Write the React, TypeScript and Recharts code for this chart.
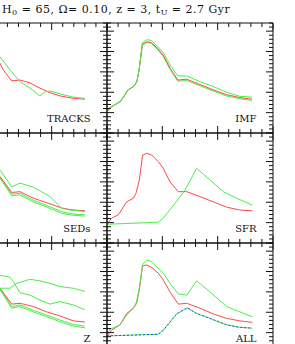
import { Line, LineChart, XAxis, YAxis } from 'recharts';

const RED = '#ff4848';
const GREEN = '#48ee48';
const BLUE = '#2f4cff';
const INK = '#111';

// minor ticks every unit, majors every 5
const xTicks = [0, 1, 2, 3, 4, 5, 6, 7, 8, 9, 10, 11, 12, 13, 14, 15];
const yTicks = [
  0, 1, 2, 3, 4, 5, 6, 7, 8, 9, 10, 11, 12, 13, 14, 15, 16, 17, 18, 19, 20, 21, 22, 23, 24, 25, 26, 27,
];

// TRACKS
const tracksRedX = [4.6, 5.33, 5.63, 6.39, 7.14, 8.04, 8.94, 9.85, 10.75, 11.95, 13.0];
const tracksRedY = [19.5, 17.1, 15.5, 12.8, 13.0, 12.3, 11.0, 9.9, 9.1, 8.5, 8.3];
const tracksGreenX = [4.6, 5.33, 6.23, 7.14, 8.04, 8.94, 9.39, 9.85, 10.75, 11.95, 13.0];
const tracksGreenY = [21.0, 18.7, 15.5, 12.6, 11.0, 9.1, 10.1, 10.3, 9.6, 8.8, 8.5];

// IMF
const imfX = [0, 0.3, 0.7, 1.2, 1.6, 1.9, 2.4, 2.7, 2.9, 3.2, 3.6, 4.0, 4.6, 5.1, 5.7, 6.4, 7.2, 8.4, 9.6, 10.8, 12.0, 13.1];
const imfGreenHi = [5.2, 6.3, 6.9, 7.7, 9.3, 10.6, 11.4, 12.6, 15.5, 22.2, 22.9, 22.7, 21.2, 19.7, 16.7, 14.0, 14.0, 12.6, 11.4, 10.0, 9.0, 8.8];
const imfRed = [5.2, 6.3, 6.9, 7.7, 9.3, 10.6, 11.4, 12.6, 15.5, 21.8, 22.4, 22.2, 20.7, 19.0, 15.9, 13.0, 13.2, 11.9, 10.6, 9.4, 8.7, 8.3];
const imfGreenLo = [5.2, 6.3, 6.9, 7.7, 9.3, 10.6, 11.4, 12.6, 15.5, 21.6, 22.2, 22.0, 20.4, 18.7, 15.6, 12.7, 12.9, 11.6, 10.3, 9.1, 8.4, 8.0];

// SEDs
const sedX = [4.6, 5.33, 6.39, 7.14, 8.34, 9.85, 10.9, 11.65, 13.0];
const sedGreenHi = [20.0, 17.9, 13.8, 14.7, 13.7, 11.4, 8.5, 8.1, 7.7];
const sedRed = [18.5, 16.3, 12.4, 12.6, 11.0, 9.6, 8.6, 8.2, 7.9];
const sedGreenMid = [18.3, 16.2, 12.0, 12.2, 10.5, 8.9, 7.7, 7.2, 6.9];
const sedGreenLo = [18.0, 15.9, 11.6, 11.8, 10.1, 8.5, 7.3, 6.9, 6.6];

// SFR
const sfrRedX = [0, 0.42, 1.02, 1.78, 2.38, 2.62, 2.92, 3.22, 3.59, 4.04, 4.63, 5.09, 5.69, 6.44, 7.2, 8.4, 9.6, 10.81, 12.0, 13.13];
const sfrRedY = [4.6, 6.1, 6.9, 10.1, 11.0, 12.2, 15.5, 21.6, 22.0, 21.6, 20.0, 18.3, 15.0, 12.6, 12.6, 11.4, 10.1, 8.8, 8.1, 7.9];
const sfrGreenX = [0, 4.63, 5.09, 6.14, 7.05, 8.1, 9.3, 10.5, 11.7, 13.13];
const sfrGreenY = [4.6, 5.1, 6.1, 9.7, 13.0, 18.3, 15.5, 12.6, 11.0, 9.3];

// Z
const zGreenAX = [4.6, 5.33, 6.23, 6.53, 7.14, 8.04, 8.94, 9.85, 10.75, 11.95, 13.0];
const zGreenAY = [19.3, 19.1, 18.6, 17.5, 14.8, 14.2, 13.0, 12.0, 12.6, 11.8, 10.6];
const zGreenBX = [4.6, 5.33, 6.23, 6.84, 8.04, 8.94, 9.85, 10.75, 11.95, 13.0];
const zGreenBY = [15.9, 15.9, 15.9, 17.1, 18.1, 17.7, 17.1, 16.3, 15.9, 15.1];
const zX = [4.6, 5.33, 6.39, 7.14, 8.34, 9.55, 10.75, 11.95, 13.0];
const zRed = [18.5, 15.9, 12.0, 12.2, 11.4, 10.1, 9.1, 7.9, 7.6];
const zGreenMid = [18.2, 15.8, 11.4, 11.8, 10.5, 9.3, 8.1, 7.0, 6.6];
const zGreenLo = [18.0, 15.6, 11.0, 11.4, 10.1, 8.9, 7.7, 6.6, 6.2];

// ALL
const allGreenX = [0, 0.27, 1.17, 1.78, 2.38, 2.68, 2.92, 3.22, 3.59, 4.04, 5.09, 5.69, 6.44, 7.2, 8.1, 9.3, 10.81, 12.0, 13.13];
const allGreenY = [4.4, 5.8, 6.9, 9.3, 11.0, 12.6, 16.0, 21.8, 22.8, 22.4, 19.6, 17.1, 14.5, 14.2, 17.7, 15.0, 11.4, 10.1, 8.9];
const allRedX = [0, 0.42, 1.17, 1.78, 2.38, 2.68, 2.92, 3.22, 3.59, 4.04, 4.63, 5.09, 5.69, 6.44, 7.2, 8.4, 9.6, 10.81, 12.0, 13.13];
const allRedY = [4.2, 5.6, 6.9, 9.7, 11.0, 12.2, 15.5, 21.4, 21.6, 21.0, 19.6, 17.9, 15.0, 12.0, 12.2, 11.0, 9.6, 8.5, 7.9, 7.5];
const allMixX = [0, 4.63, 5.09, 6.3, 7.25, 8.1, 9.3, 10.81, 12.0, 13.13];
const allMixY = [4.2, 4.6, 5.6, 9.6, 11.1, 9.7, 8.5, 6.9, 6.3, 6.1];

type Pt = { x: number; y: number };
const pts = (xs: number[], ys: number[]): Pt[] => xs.map((x, i) => ({ x, y: ys[i] }));

interface Series {
  data: Pt[];
  color: string;
  dash?: string;
}

interface Panel {
  label: string;
  col: number;
  row: number;
  series: Series[];
}

const panels: Panel[] = [
  {
    label: 'TRACKS',
    col: 0,
    row: 0,
    series: [
      { data: pts(tracksRedX, tracksRedY), color: RED },
      { data: pts(tracksGreenX, tracksGreenY), color: GREEN },
    ],
  },
  {
    label: 'IMF',
    col: 1,
    row: 0,
    series: [
      { data: pts(imfX, imfGreenLo), color: GREEN },
      { data: pts(imfX, imfRed), color: RED },
      { data: pts(imfX, imfGreenHi), color: GREEN },
    ],
  },
  {
    label: 'SEDs',
    col: 0,
    row: 1,
    series: [
      { data: pts(sedX, sedGreenLo), color: GREEN },
      { data: pts(sedX, sedGreenMid), color: GREEN },
      { data: pts(sedX, sedRed), color: RED },
      { data: pts(sedX, sedGreenHi), color: GREEN },
    ],
  },
  {
    label: 'SFR',
    col: 1,
    row: 1,
    series: [
      { data: pts(sfrRedX, sfrRedY), color: RED },
      { data: pts(sfrGreenX, sfrGreenY), color: GREEN },
    ],
  },
  {
    label: 'Z',
    col: 0,
    row: 2,
    series: [
      { data: pts(zX, zGreenLo), color: GREEN },
      { data: pts(zX, zGreenMid), color: GREEN },
      { data: pts(zX, zRed), color: RED },
      { data: pts(zGreenAX, zGreenAY), color: GREEN },
      { data: pts(zGreenBX, zGreenBY), color: GREEN },
    ],
  },
  {
    label: 'ALL',
    col: 1,
    row: 2,
    series: [
      { data: pts(allRedX, allRedY), color: RED },
      { data: pts(allGreenX, allGreenY), color: GREEN },
      { data: pts(allMixX, allMixY), color: GREEN },
      { data: pts(allMixX, allMixY), color: BLUE, dash: '2 2' },
    ],
  },
];

const PANEL_W = 166;
const PANEL_H = 110;
const COL_LEFT = [-59, 107];
const ROW_TOP = [23, 133, 243];
const PAD = 10;

function XTick(props: any) {
  const { x, y, payload, dir } = props;
  const len = payload.value % 5 === 0 ? 7 : 4;
  return <line x1={x} x2={x} y1={y} y2={y + dir * len} stroke={INK} strokeWidth={1} />;
}

function YTick(props: any) {
  const { x, y, payload, dir } = props;
  const len = payload.value % 5 === 0 ? 7 : 4;
  return <line x1={x} x2={x + dir * len} y1={y} y2={y} stroke={INK} strokeWidth={1} />;
}

function PanelChart({ panel }: { panel: Panel }) {
  const left = COL_LEFT[panel.col] - PAD - 1;
  const top = ROW_TOP[panel.row] - PAD - 1;
  const axisLine = { stroke: INK, strokeWidth: 1 };
  return (
    <div style={{ position: 'absolute', left, top }}>
      <LineChart
        width={PANEL_W + 2 * PAD + 2}
        height={PANEL_H + 2 * PAD + 2}
        margin={{ top: PAD, right: PAD, bottom: PAD, left: PAD }}
      >
        <XAxis
          xAxisId="b"
          dataKey="x"
          type="number"
          domain={[0, 15]}
          ticks={xTicks}
          interval={0}
          allowDataOverflow
          height={1}
          tickSize={0}
          tickMargin={0}
          tickLine={false}
          axisLine={axisLine}
          tick={<XTick dir={-1} />}
        />
        <XAxis
          xAxisId="t"
          orientation="top"
          dataKey="x"
          type="number"
          domain={[0, 15]}
          ticks={xTicks}
          interval={0}
          allowDataOverflow
          height={1}
          tickSize={0}
          tickMargin={0}
          tickLine={false}
          axisLine={axisLine}
          tick={<XTick dir={1} />}
        />
        <YAxis
          yAxisId="l"
          type="number"
          domain={[0, 27]}
          ticks={yTicks}
          interval={0}
          allowDataOverflow
          width={1}
          tickSize={0}
          tickMargin={0}
          tickLine={false}
          axisLine={axisLine}
          tick={<YTick dir={1} />}
        />
        <YAxis
          yAxisId="r"
          orientation="right"
          type="number"
          domain={[0, 27]}
          ticks={yTicks}
          interval={0}
          allowDataOverflow
          width={1}
          tickSize={0}
          tickMargin={0}
          tickLine={false}
          axisLine={axisLine}
          tick={<YTick dir={-1} />}
        />
        {panel.series.map((s, i) => (
          <Line
            key={i}
            xAxisId="b"
            yAxisId="l"
            data={s.data}
            dataKey="y"
            type="linear"
            stroke={s.color}
            strokeWidth={1}
            strokeDasharray={s.dash}
            dot={false}
            activeDot={false}
            isAnimationActive={false}
          />
        ))}
        <Line
          xAxisId="t"
          yAxisId="r"
          data={panel.series[0].data}
          dataKey="y"
          stroke="none"
          dot={false}
          activeDot={false}
          isAnimationActive={false}
        />
      </LineChart>
    </div>
  );
}

export default function App() {
  return (
    <div style={{ position: 'relative', width: 295, height: 344, overflow: 'hidden', background: '#fff' }}>
      <style>{'body{margin:0}'}</style>
      {panels.map((p) => (
        <PanelChart key={p.label} panel={p} />
      ))}
      <svg
        width={295}
        height={344}
        style={{ position: 'absolute', left: 0, top: 0, pointerEvents: 'none' }}
        fontFamily="'DejaVu Serif', serif"
        fill={INK}
      >
        <text x={2} y={13} fontSize={11} letterSpacing={0.5}>
          H<tspan fontSize={8} dy={2}>0</tspan>
          <tspan dy={-2}> = 65, Ω= 0.10, z = 3, t</tspan>
          <tspan fontSize={8} dy={2}>U</tspan>
          <tspan dy={-2}> = 2.7 Gyr</tspan>
        </text>
        {panels.map((p) => (
          <text
            key={p.label}
            x={COL_LEFT[p.col] + PANEL_W - 16.5}
            y={ROW_TOP[p.row] + PANEL_H - 11}
            fontSize={10}
            textAnchor="end"
          >
            {p.label}
          </text>
        ))}
      </svg>
    </div>
  );
}
